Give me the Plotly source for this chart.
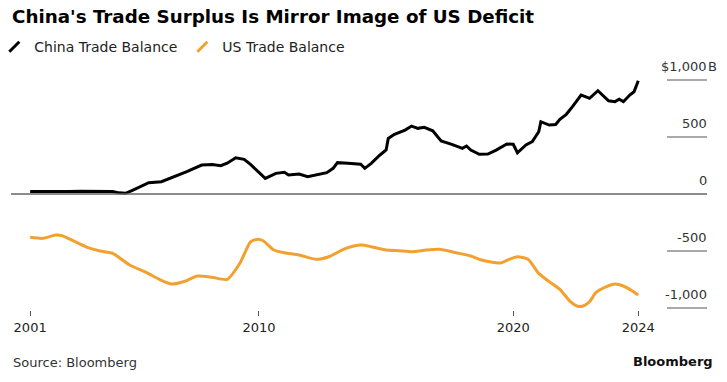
import plotly.graph_objects as go

china_dates = ["2001-01","2001-07","2002-01","2002-07","2003-01","2003-07","2004-01","2004-04","2004-07","2004-10",
    "2005-01","2005-04","2005-09","2006-03","2006-08","2007-03","2007-10","2008-03","2008-07","2008-10",
    "2009-02","2009-06","2009-09","2009-12","2010-04","2010-09","2011-01","2011-03","2011-08","2011-12",
    "2012-04","2012-09","2012-12","2013-02","2013-07","2014-01","2014-03","2014-06","2014-10","2015-01",
    "2015-02","2015-05","2015-10","2016-01","2016-04","2016-07","2016-11","2017-03","2017-08","2018-01",
    "2018-03","2018-05","2018-09","2019-01","2019-05","2019-10","2020-01","2020-03","2020-07","2020-10",
    "2021-01","2021-02","2021-06","2021-09","2021-11","2022-02","2022-05","2022-09","2022-11","2023-01",
    "2023-05","2023-07","2023-10","2024-01","2024-03","2024-05","2024-08","2024-10","2024-12"]
china_values = [22,20,18,22,25,22,20,22,10,6,
    30,55,99,108,143,196,254,258,248,270,
    318,304,260,210,137,181,190,167,175,152,
    167,187,225,275,269,261,225,269,340,386,
    488,524,561,596,576,585,555,465,436,401,
    421,386,348,351,385,439,436,362,430,459,
    546,634,605,610,655,699,766,868,854,839,
    906,868,818,810,831,810,868,897,994]

us_dates = ["2001-01","2001-07","2002-01","2002-04","2002-08","2003-04","2003-10","2004-04","2004-12","2005-08",
    "2006-02","2006-08","2007-02","2007-08","2008-03","2008-10","2009-04","2009-09","2009-12","2010-03",
    "2010-08","2011-01","2011-08","2012-04","2012-10","2013-06","2014-01","2014-06","2015-01","2015-07",
    "2016-01","2016-08","2017-02","2017-10","2018-05","2018-10","2019-07","2019-11","2020-03","2020-08",
    "2021-01","2021-06","2021-11","2022-04","2022-07","2022-10","2023-01","2023-04","2023-09","2024-01",
    "2024-05","2024-09","2024-12"]
us_values = [-380,-389,-360,-365,-398,-468,-500,-520,-623,-690,
    -749,-790,-765,-719,-731,-749,-608,-420,-398,-410,
    -491,-515,-535,-573,-550,-477,-447,-462,-491,-497,
    -506,-491,-485,-515,-544,-579,-605,-573,-550,-573,
    -696,-769,-836,-945,-982,-982,-945,-866,-813,-790,
    -807,-848,-886]

y_ticks = [1000, 500, 0, -500, -1000]
y_labels = ["$1,000", "500", "0", "-500", "-1,000"]
x_ticks = ["2001-01-01", "2010-01-01", "2020-01-01", "2024-12-01"]
x_labels = ["2001", "2010", "2020", "2024"]

BLACK = "#000000"
ORANGE = "#F2A12E"
FONT = "DejaVu Sans"

fig = go.Figure()
fig.add_trace(go.Scatter(x=china_dates, y=china_values, mode="lines",
                         line=dict(color=BLACK, width=3), showlegend=False, hoverinfo="skip"))
fig.add_trace(go.Scatter(x=us_dates, y=us_values, mode="lines",
                         line=dict(color=ORANGE, width=3, shape="spline", smoothing=0.6),
                         showlegend=False, hoverinfo="skip"))
# legend entries with slanted icons
fig.add_trace(go.Scatter(x=[None], y=[None], mode="markers", name="China Trade Balance",
                         marker=dict(symbol="line-ne", size=10, line=dict(color=BLACK, width=3))))
fig.add_trace(go.Scatter(x=[None], y=[None], mode="markers", name="US Trade Balance",
                         marker=dict(symbol="line-ne", size=10, line=dict(color=ORANGE, width=3))))

# short gridlines + zero line
for v in y_ticks:
    if v == 0:
        fig.add_shape(type="line", xref="paper", yref="y", x0=0, x1=1, y0=0, y1=0,
                      line=dict(color="#666666", width=1.5))
    else:
        fig.add_shape(type="line", xref="paper", yref="y", x0=0.9425, x1=1, y0=v, y1=v,
                      line=dict(color="#555555", width=1.2))

for v, lab in zip(y_ticks, y_labels):
    fig.add_annotation(xref="paper", yref="y", x=1, y=v, text=lab, showarrow=False,
                       xanchor="right", yanchor="middle", yshift=14, xshift=2,
                       font=dict(family=FONT, size=13, color="#333333"))
fig.add_annotation(xref="paper", yref="y", x=1, y=1000, text="B", showarrow=False,
                   xanchor="left", yanchor="middle", yshift=14, xshift=-1,
                   font=dict(family=FONT, size=13, color="#333333"))

fig.add_annotation(xref="paper", yref="paper", x=0, y=1, text="<b>China's Trade Surplus Is Mirror Image of US Deficit</b>",
                   showarrow=False, xanchor="left", yanchor="middle", yshift=46, xshift=-1,
                   font=dict(family=FONT, size=18.3, color="#000000"))
fig.add_annotation(xref="paper", yref="paper", x=0, y=0, text="Source: Bloomberg",
                   showarrow=False, xanchor="left", yanchor="middle", yshift=-52,
                   font=dict(family=FONT, size=13, color="#333333"))
fig.add_annotation(xref="paper", yref="paper", x=1, y=0, text="<b>Bloomberg</b>",
                   showarrow=False, xanchor="right", yanchor="middle", yshift=-51, xshift=8,
                   font=dict(family=FONT, size=13, color="#111111"))

fig.update_layout(
    width=727, height=382,
    margin=dict(l=11, r=20, t=62, b=72, autoexpand=False),
    paper_bgcolor="white", plot_bgcolor="white",
    showlegend=True,
    legend=dict(orientation="h", x=-0.024, y=1.06, xanchor="left", yanchor="middle",
                font=dict(family=FONT, size=14, color="#222222"),
                itemwidth=30, tracegroupgap=0, bgcolor="rgba(0,0,0,0)"),
    xaxis=dict(type="date", range=["2000-04-01", "2027-08-15"], showgrid=False, zeroline=False,
               showline=False, tickmode="array", tickvals=x_ticks, ticktext=x_labels,
               ticks="outside", ticklen=5, tickcolor="#555555", tickwidth=1, automargin=False,
               tickfont=dict(family=FONT, size=13, color="#222222")),
    yaxis=dict(range=[-1017.5, 1158], showgrid=False, zeroline=False, showline=False,
               showticklabels=False, ticks="", automargin=False),
)

fig.write_html("out.html", config={"displayModeBar": False},
               post_script="document.body.style.margin='0';document.body.style.padding='0';document.body.style.overflow='hidden';")
